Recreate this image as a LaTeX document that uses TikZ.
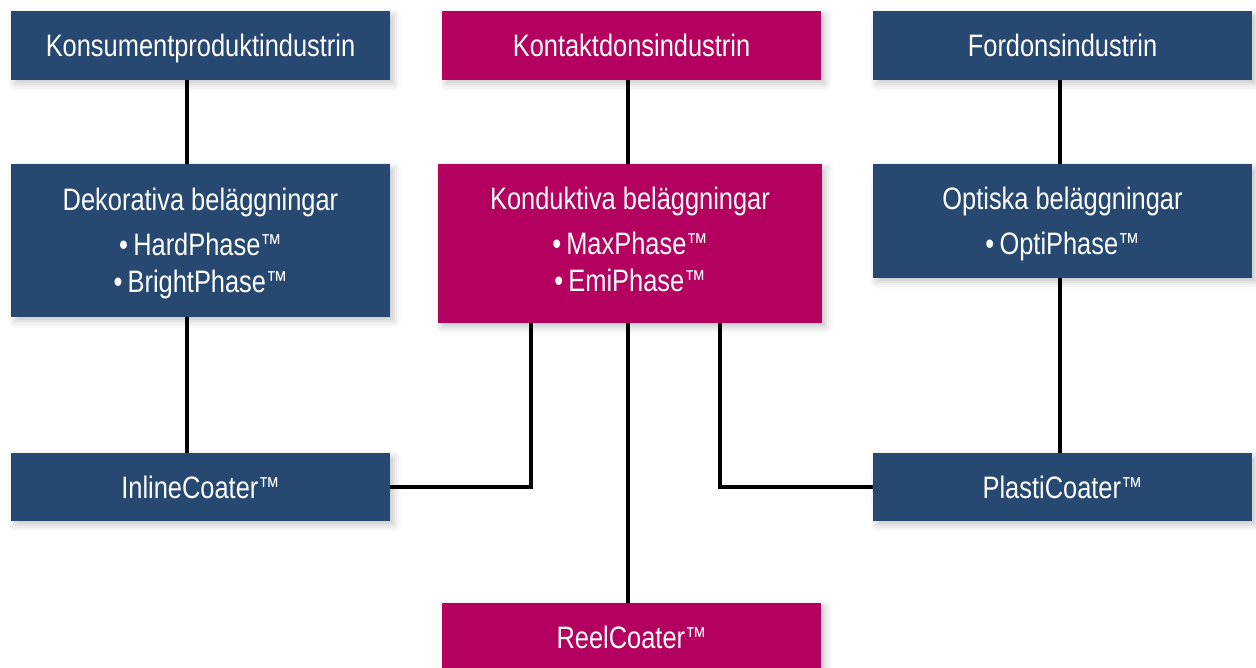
\documentclass[tikz,border=0pt]{standalone}
\usepackage{fontspec}
\newfontfamily\boxfont{Liberation Sans}[FakeStretch=0.82]
\usetikzlibrary{shadows.blur}
\definecolor{navy}{RGB}{38,72,113}
\definecolor{berry}{RGB}{180,0,94}
\newcommand\tmark{\raisebox{3pt}{\fontsize{26}{26}\selectfont ™}}
\tikzset{
  card/.style={rectangle, inner sep=0pt, text=white, align=center,
    font=\boxfont\fontsize{31}{37}\selectfont,
    blur shadow={shadow xshift=4pt, shadow yshift=-4pt, shadow blur radius=7pt, shadow opacity=22}},
  bluecard/.style={card, fill=navy},
  redcard/.style={card, fill=berry},
  oneline/.style={minimum width=379pt, minimum height=69pt, text height=22pt, text depth=0pt},
  link/.style={line width=4pt, draw=black}
}
\begin{document}
\begin{tikzpicture}[x=1pt,y=-1pt]
\useasboundingbox (0,0) rectangle (1256,668);
% top row
\node[bluecard, oneline] (kons) at (200.5,45.5) {Konsumentproduktindustrin};
\node[redcard, oneline] (kont) at (631.5,45.5) {Kontaktdonsindustrin};
\node[bluecard, oneline] (ford) at (1062.5,45.5) {Fordonsindustrin};
% middle row
\node[bluecard, minimum width=379pt, minimum height=153pt, text depth=0.5pt] (dek) at (200.5,240.5) {Dekorativa beläggningar\\[8pt] •\,HardPhase\tmark\\ •\,BrightPhase\tmark};
\node[redcard, minimum width=384pt, minimum height=159pt, text depth=9pt] (kond) at (630,243.5) {Konduktiva beläggningar\\[8pt] •\,MaxPhase\tmark\\ •\,EmiPhase\tmark};
\node[bluecard, minimum width=379pt, minimum height=114pt, text depth=0pt] (opt) at (1062.5,221) {Optiska beläggningar\\[8pt] •\,OptiPhase\tmark};
% bottom rows
\node[bluecard, oneline, minimum height=68pt] (inl) at (200.5,487) {InlineCoater\tmark};
\node[bluecard, oneline, minimum height=68pt] (pla) at (1062.5,487) {PlastiCoater\tmark};
\node[redcard, oneline, minimum height=68pt] (reel) at (631.5,637) {ReelCoater\tmark};
% connectors
\draw[link] ([xshift=-13.5pt]kons.south) -- ([xshift=-13.5pt]dek.north);
\draw[link] ([xshift=-3.5pt]kont.south) -- ([xshift=-2pt]kond.north);
\draw[link] ([xshift=-2.5pt]ford.south) -- ([xshift=-2.5pt]opt.north);
\draw[link] ([xshift=-13.5pt]dek.south) -- ([xshift=-13.5pt]inl.north);
\draw[link] ([xshift=-2.5pt]opt.south) -- ([xshift=-2.5pt]pla.north);
\draw[link] ([xshift=-99pt]kond.south) |- (inl.east);
\draw[link] ([xshift=90pt]kond.south) |- (pla.west);
\draw[link] ([xshift=-2pt]kond.south) -- ([xshift=-3.5pt]reel.north);
\end{tikzpicture}
\end{document}
